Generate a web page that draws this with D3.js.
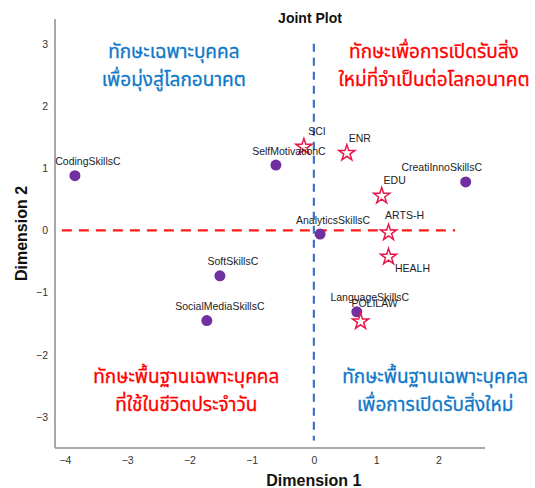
<!DOCTYPE html>
<html>
<head>
<meta charset="utf-8">
<script src="https://cdn.jsdelivr.net/npm/d3@7"></script>
<style>
  body { margin: 0; background: #fff; }
  svg { font-family: "Liberation Sans", Arial, sans-serif; }
</style>
</head>
<body>
<div id="chart"></div>
<script>
let w = 535;
let h = 488;

// skill points (circles)
let skillNames = ["CodingSkillsC", "SelfMotivationC", "AnalyticsSkillsC", "CreatiInnoSkillsC",
  "SoftSkillsC", "SocialMediaSkillsC", "LanguageSkillsC"];
let skillX = [-3.84, -0.61, 0.10, 2.44, -1.51, -1.72, 0.69];
let skillY = [0.88, 1.05, -0.06, 0.78, -0.73, -1.45, -1.31];

// field points (stars)
let fieldNames = ["SCI", "ENR", "EDU", "ARTS-H", "HEALH", "POLILAW"];
let fieldX = [-0.16, 0.53, 1.09, 1.20, 1.20, 0.75];
let fieldY = [1.36, 1.26, 0.57, -0.02, -0.41, -1.45];

let xTicks = [-4, -3, -2, -1, 0, 1, 2];
let yTicks = [3, 2, 1, 0, -1, -2, -3];

// quadrant captions
let quadText = [
  ["ทักษะเฉพาะบุคคล", "เพื่อมุ่งสู่โลกอนาคต"],
  ["ทักษะเพื่อการเปิดรับสิ่ง", "ใหม่ที่จำเป็นต่อโลกอนาคต"],
  ["ทักษะพื้นฐานเฉพาะบุคคล", "ที่ใช้ในชีวิตประจำวัน"],
  ["ทักษะพื้นฐานเฉพาะบุคคล", "เพื่อการเปิดรับสิ่งใหม่"]
];
let quadX = [-2.25, 1.93, -2.05, 1.95];
let quadY = [2.78, 2.78, -2.45, -2.45];
let quadColor = ["#0f78c8", "#ff0000", "#ff0000", "#0f78c8"];

// label nudges that differ from the default (up-right)
let labelNudge = {
  "CreatiInnoSkillsC": [-24, -14],
  "HEALH": [24, 13],
  "ARTS-H": [16, -16],
  "POLILAW": [14, -17]
};

let viz = d3.select("#chart").append("svg")
  .attr("width", w)
  .attr("height", h);

let xScale = d3.scaleLinear().domain([-4.16, 2.75]).range([55, 485]);
let yScale = d3.scaleLinear().domain([3.4, -3.5]).range([19, 448]);

// axis lines (left + bottom only)
viz.append("line")
  .attr("x1", xScale.range()[0]).attr("x2", xScale.range()[0])
  .attr("y1", yScale.range()[0]).attr("y2", yScale.range()[1])
  .attr("stroke", "#8c8c8c").attr("stroke-width", 1.5);
viz.append("line")
  .attr("x1", xScale.range()[0]).attr("x2", xScale.range()[1])
  .attr("y1", yScale.range()[1]).attr("y2", yScale.range()[1])
  .attr("stroke", "#8c8c8c").attr("stroke-width", 1.5);

// tick labels
let xAxis = d3.axisBottom(xScale).tickValues(xTicks).tickSize(0).tickPadding(9)
  .tickFormat(d3.format("d"));
let xg = viz.append("g").attr("transform", "translate(0," + yScale.range()[1] + ")").call(xAxis);
xg.select(".domain").remove();
xg.selectAll("text").attr("font-size", 10.5).attr("fill", "#333")
  .style("font-family", "Liberation Sans, Arial, sans-serif");

let yAxis = d3.axisLeft(yScale).tickValues(yTicks).tickSize(0).tickPadding(7)
  .tickFormat(d3.format("d"));
let yg = viz.append("g").attr("transform", "translate(" + xScale.range()[0] + ",0)").call(yAxis);
yg.select(".domain").remove();
yg.selectAll("text").attr("font-size", 10.5).attr("fill", "#333")
  .style("font-family", "Liberation Sans, Arial, sans-serif");

// reference lines
viz.append("line")
  .attr("x1", xScale(0)).attr("x2", xScale(0))
  .attr("y1", yScale(3.0)).attr("y2", yScale(-3.38))
  .attr("stroke", "#4472c4").attr("stroke-width", 2.2)
  .attr("stroke-dasharray", "8,6");
viz.append("line")
  .attr("x1", xScale(-4.05)).attr("x2", xScale(2.27))
  .attr("y1", yScale(0)).attr("y2", yScale(0))
  .attr("stroke", "#ff1a1a").attr("stroke-width", 2.2)
  .attr("stroke-dasharray", "10,7");

// titles
viz.append("text").text("Joint Plot")
  .attr("x", 310).attr("y", 23)
  .attr("text-anchor", "middle")
  .attr("font-size", 14).attr("font-weight", "bold").attr("fill", "#111");
viz.append("text").text("Dimension 1")
  .attr("x", xScale(0)).attr("y", 486)
  .attr("text-anchor", "middle")
  .attr("font-size", 16).attr("font-weight", "bold").attr("fill", "#111");
viz.append("text").text("Dimension 2")
  .attr("transform", "translate(27," + yScale(-0.05) + ") rotate(-90)")
  .attr("text-anchor", "middle")
  .attr("font-size", 16).attr("font-weight", "bold").attr("fill", "#111");

// quadrant captions
quadText.forEach(function(lines, i) {
  let t = viz.append("text")
    .attr("text-anchor", "middle")
    .attr("font-size", 19)
    .attr("fill", quadColor[i])
    .attr("stroke", quadColor[i])
    .attr("stroke-width", 0.3)
    .style("font-family", "Tahoma, 'Noto Sans Thai', 'DejaVu Sans', sans-serif");
  lines.forEach(function(l, j) {
    t.append("tspan")
      .attr("x", xScale(quadX[i]))
      .attr("y", yScale(quadY[i]) + j * 28)
      .text(l);
  });
});

let skills = skillNames.map(function(n, i) { return {name: n, x: skillX[i], y: skillY[i]}; });
let fields = fieldNames.map(function(n, i) { return {name: n, x: fieldX[i], y: fieldY[i]}; });

// skill circles
viz.selectAll(".skill").data(skills).enter()
  .append("circle")
  .attr("class", "skill")
  .attr("cx", function(d) { return xScale(d.x); })
  .attr("cy", function(d) { return yScale(d.y); })
  .attr("r", 5.5)
  .attr("fill", "#71309f");

// field stars
let star = d3.symbol().type(d3.symbolStar).size(80);
viz.selectAll(".field").data(fields).enter()
  .append("path")
  .attr("class", "field")
  .attr("d", star)
  .attr("transform", function(d) { return "translate(" + xScale(d.x) + "," + (yScale(d.y) + 1) + ")"; })
  .attr("fill", "white")
  .attr("stroke", "#e8174a")
  .attr("stroke-width", 1.5);

// point labels
viz.selectAll(".plabel").data(skills.concat(fields)).enter()
  .append("text")
  .attr("class", "plabel")
  .text(function(d) { return d.name; })
  .attr("x", function(d) {
    let n = labelNudge[d.name] || [13, -14];
    return xScale(d.x) + n[0];
  })
  .attr("y", function(d) {
    let n = labelNudge[d.name] || [13, -14];
    return yScale(d.y) + n[1] + 3.5;
  })
  .attr("text-anchor", "middle")
  .attr("font-size", 10.5)
  .attr("fill", "#222");
</script>
</body>
</html>
